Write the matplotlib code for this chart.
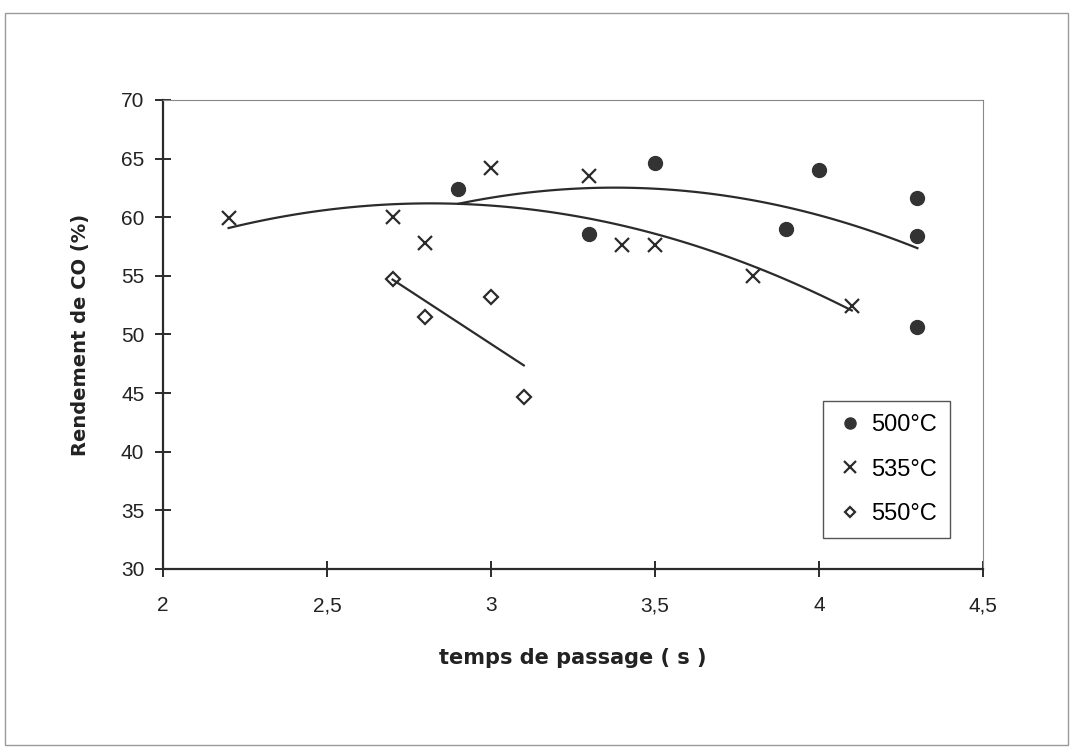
import numpy as np
import matplotlib.pyplot as plt
from matplotlib.patches import Rectangle

# 500 C
x500 = [2.9, 3.3, 3.5, 3.9, 4.0, 4.3, 4.3, 4.3]
y500 = [62.4, 58.6, 64.6, 59.0, 64.0, 61.6, 58.4, 50.6]
# 535 C
x535 = [2.2, 2.7, 2.8, 3.0, 3.3, 3.4, 3.5, 3.8, 4.1]
y535 = [59.9, 60.0, 57.8, 64.2, 63.5, 57.6, 57.6, 55.0, 52.4]
# 550 C
x550 = [2.7, 2.8, 3.0, 3.1]
y550 = [54.7, 51.5, 53.2, 44.7]

labels = ["500°C", "535°C", "550°C"]
xticks = [2, 2.5, 3, 3.5, 4, 4.5]
xtick_labels = ["2", "2,5", "3", "3,5", "4", "4,5"]
yticks = [30, 35, 40, 45, 50, 55, 60, 65, 70]

plt.rcParams['font.family'] = ['Liberation Sans', 'DejaVu Sans']

fig = plt.figure(figsize=(10.74, 7.47), dpi=100)
ax = fig.add_axes([163 / 1074, 1 - 569 / 747, 820 / 1074, 469 / 747])

# scan frame around the chart
fig.patches.append(Rectangle((5 / 1074, 2 / 747), 1063 / 1074, 732 / 747,
                             transform=fig.transFigure, fill=False,
                             edgecolor='#9a9a9a', lw=1.0))

dark = '#2b2b2b'
ax.plot(x500, y500, 'o', color='#333333', ms=10, ls='none', label=labels[0])
ax.plot(x535, y535, 'x', color=dark, ms=10, mew=1.6, ls='none', label=labels[1])
ax.plot(x550, y550, 'D', color=dark, mfc='white', ms=7, mew=1.6, ls='none',
        label=labels[2])

# trend lines
for xs, ys, deg in [(x500, y500, 2), (x535, y535, 2), (x550, y550, 1)]:
    c = np.polyfit(xs, ys, deg)
    xx = np.linspace(min(xs), max(xs), 100)
    ax.plot(xx, np.polyval(c, xx), color=dark, lw=1.6)

ax.set_xlim(2, 4.5)
ax.set_ylim(30, 70)
ax.set_xticks(xticks)
ax.set_xticklabels(xtick_labels)
ax.set_yticks(yticks)

for s in ['top', 'right']:
    ax.spines[s].set_color('#888888')
    ax.spines[s].set_linewidth(0.8)
for s in ['left', 'bottom']:
    ax.spines[s].set_color(dark)
    ax.spines[s].set_linewidth(1.6)

ax.tick_params(axis='x', direction='inout', length=11, width=1.4, color=dark,
               labelsize=15, pad=14, labelcolor='#222222')
ax.tick_params(axis='y', direction='inout', length=11, width=1.4, color=dark,
               labelsize=15, pad=8, labelcolor='#222222')

ax.set_xlabel("temps de passage ( s )", fontsize=15, fontweight='bold',
              family='DejaVu Sans', labelpad=24, color='#222222')
ax.set_ylabel("Rendement de CO (%)", fontsize=14, fontweight='bold',
              family='DejaVu Sans', labelpad=22, color='#222222')

leg = ax.legend(loc='upper left', bbox_to_anchor=(0.805, 0.358), fontsize=17,
                frameon=True, fancybox=False, handlelength=1.2,
                handletextpad=0.3, labelspacing=0.95, borderpad=0.55,
                borderaxespad=0, markerscale=0.8)
leg.get_frame().set_edgecolor(dark)
leg.get_frame().set_linewidth(1.0)

fig.savefig("out.png", dpi=100)
